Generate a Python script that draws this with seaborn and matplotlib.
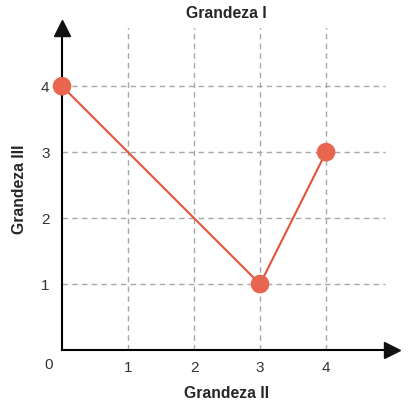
import matplotlib
matplotlib.use("Agg")
import matplotlib.pyplot as plt
import seaborn as sns
import pandas as pd

# data
grandeza_ii = [0, 3, 4]
grandeza_iii = [4, 1, 3]
x_ticks = [1, 2, 3, 4]
y_ticks = [1, 2, 3, 4]

df = pd.DataFrame({"x": grandeza_ii, "y": grandeza_iii})

sns.set_theme(style="white")
plt.rcParams['font.family'] = ['Liberation Sans', 'DejaVu Sans']

fig = plt.figure(figsize=(4.08, 4.08), dpi=100)
ax = fig.add_axes([0.152, 0.142, 0.809, 0.789])
ax.set_xlim(0, 5.0)
ax.set_ylim(0, 4.88)

# dashed grid
grid_kw = dict(color="#a8a8a8", linestyle=(0, (4, 3)), linewidth=1.0, zorder=1)
ax.hlines(y_ticks, 0, 4.9, **grid_kw)
ax.vlines(x_ticks, 0, 4.95, **grid_kw)

sns.lineplot(data=df, x="x", y="y", sort=False, color="#e4533c", linewidth=1.5,
             ax=ax, zorder=3)
sns.scatterplot(data=df, x="x", y="y", color="#e8654f", s=180, edgecolor="none",
                ax=ax, zorder=4, clip_on=False)

# axes with arrows
for side in ["top", "right"]:
    ax.spines[side].set_visible(False)
for side in ["left", "bottom"]:
    ax.spines[side].set_color("black")
    ax.spines[side].set_linewidth(1.5)
ax.plot(1, 0, ">", color="#111111", markersize=11, transform=ax.get_yaxis_transform(),
        clip_on=False, zorder=5)
ax.plot(0, 1, "^", color="#111111", markersize=11, transform=ax.get_xaxis_transform(),
        clip_on=False, zorder=5)

ax.set_xticks(x_ticks)
ax.set_yticks(y_ticks)
ax.tick_params(axis="both", length=0, labelsize=11, colors="#333333")
ax.tick_params(axis="x", pad=8)
ax.tick_params(axis="y", pad=9)
# origin label in the corner
ax.text(-0.21, -0.23, "0", fontsize=11, color="#333333", ha="center", va="center",
        clip_on=False)

ax.set_xlabel("Grandeza II", fontsize=11.3, fontweight="bold", labelpad=8)
ax.set_ylabel("Grandeza III", fontsize=11.3, fontweight="bold", labelpad=10)
fig.text(0.556, 0.966, "Grandeza I", fontsize=11.3, fontweight="bold", ha="center", va="center")

plt.savefig("out.png", dpi=100)
